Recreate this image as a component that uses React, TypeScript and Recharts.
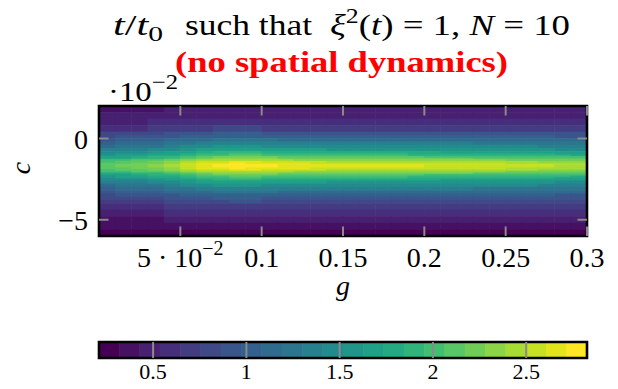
import { ReferenceArea, ReferenceLine, Scatter, ScatterChart, XAxis, YAxis } from 'recharts'

const FONT = '"Liberation Serif", "DejaVu Serif", serif'

// g cell centres (columns), each cell 0.01 wide
const gValues = [
  0.005, 0.015, 0.025, 0.035, 0.045, 0.055, 0.065, 0.075, 0.085, 0.095, 0.105, 0.115, 0.125, 0.135, 0.145,
  0.155, 0.165, 0.175, 0.185, 0.195, 0.205, 0.215, 0.225, 0.235, 0.245, 0.255, 0.265, 0.275, 0.285, 0.295,
]
const gCellWidth = 0.01

// c row edges, top to bottom (finer near the ridge)
const cEdges = [
  0.02, 0.016, 0.012, 0.008, 0.004, 0.002, 0, -0.002, -0.004, -0.006, -0.008, -0.009, -0.01, -0.011, -0.012,
  -0.013, -0.014, -0.015, -0.016, -0.017, -0.018, -0.019, -0.02, -0.021, -0.022, -0.023, -0.024, -0.025,
  -0.026, -0.028, -0.03, -0.032, -0.034, -0.036, -0.038, -0.04, -0.044, -0.048, -0.052, -0.056, -0.06,
]

// t/t0, one row per c band (top to bottom), one value per g column
const tValues = [
  [0.39, 0.4, 0.41, 0.41, 0.43, 0.44, 0.45, 0.46, 0.46, 0.46, 0.46, 0.45, 0.45, 0.45, 0.45, 0.45, 0.45, 0.45, 0.45, 0.44, 0.44, 0.44, 0.44, 0.44, 0.44, 0.44, 0.44, 0.43, 0.43, 0.43],
  [0.44, 0.45, 0.46, 0.47, 0.48, 0.5, 0.52, 0.52, 0.53, 0.53, 0.52, 0.52, 0.51, 0.51, 0.51, 0.51, 0.51, 0.51, 0.51, 0.5, 0.5, 0.5, 0.5, 0.5, 0.5, 0.5, 0.5, 0.49, 0.49, 0.49],
  [0.51, 0.52, 0.53, 0.54, 0.56, 0.58, 0.6, 0.61, 0.62, 0.62, 0.61, 0.61, 0.6, 0.6, 0.6, 0.6, 0.6, 0.6, 0.59, 0.59, 0.59, 0.59, 0.59, 0.58, 0.58, 0.58, 0.58, 0.57, 0.57, 0.57],
  [0.62, 0.63, 0.64, 0.66, 0.69, 0.72, 0.74, 0.76, 0.77, 0.76, 0.75, 0.74, 0.74, 0.74, 0.74, 0.73, 0.73, 0.73, 0.73, 0.72, 0.72, 0.72, 0.72, 0.72, 0.72, 0.71, 0.71, 0.7, 0.69, 0.69],
  [0.78, 0.8, 0.82, 0.84, 0.88, 0.92, 0.96, 0.98, 0.99, 0.99, 0.97, 0.96, 0.95, 0.95, 0.95, 0.94, 0.94, 0.94, 0.94, 0.93, 0.93, 0.92, 0.92, 0.92, 0.92, 0.92, 0.91, 0.9, 0.89, 0.88],
  [0.85, 0.87, 0.89, 0.92, 0.96, 1.0, 1.04, 1.07, 1.08, 1.08, 1.06, 1.05, 1.04, 1.04, 1.03, 1.03, 1.03, 1.03, 1.02, 1.01, 1.01, 1.01, 1.01, 1.0, 1.0, 1.0, 1.0, 0.98, 0.97, 0.96],
  [0.95, 0.98, 1.0, 1.04, 1.09, 1.14, 1.18, 1.21, 1.23, 1.22, 1.2, 1.19, 1.18, 1.18, 1.17, 1.17, 1.16, 1.16, 1.16, 1.15, 1.14, 1.14, 1.14, 1.14, 1.14, 1.13, 1.13, 1.11, 1.09, 1.09],
  [1.08, 1.11, 1.13, 1.17, 1.23, 1.29, 1.35, 1.38, 1.4, 1.39, 1.37, 1.35, 1.34, 1.34, 1.33, 1.33, 1.32, 1.32, 1.32, 1.31, 1.3, 1.3, 1.3, 1.29, 1.29, 1.29, 1.28, 1.27, 1.24, 1.24],
  [1.18, 1.22, 1.25, 1.29, 1.36, 1.42, 1.49, 1.52, 1.54, 1.54, 1.51, 1.49, 1.48, 1.48, 1.47, 1.47, 1.46, 1.46, 1.46, 1.44, 1.43, 1.43, 1.43, 1.42, 1.42, 1.42, 1.41, 1.39, 1.37, 1.36],
  [1.3, 1.33, 1.37, 1.42, 1.49, 1.57, 1.64, 1.68, 1.7, 1.69, 1.67, 1.64, 1.63, 1.63, 1.62, 1.61, 1.61, 1.61, 1.6, 1.59, 1.58, 1.57, 1.57, 1.57, 1.57, 1.56, 1.56, 1.53, 1.51, 1.5],
  [1.43, 1.46, 1.5, 1.56, 1.64, 1.72, 1.8, 1.85, 1.87, 1.86, 1.83, 1.81, 1.79, 1.79, 1.78, 1.78, 1.77, 1.77, 1.76, 1.74, 1.74, 1.73, 1.73, 1.72, 1.72, 1.72, 1.71, 1.69, 1.65, 1.65],
  [1.49, 1.53, 1.57, 1.63, 1.72, 1.81, 1.89, 1.94, 1.96, 1.96, 1.92, 1.9, 1.88, 1.88, 1.87, 1.86, 1.86, 1.86, 1.85, 1.83, 1.82, 1.82, 1.82, 1.81, 1.81, 1.8, 1.8, 1.77, 1.73, 1.73],
  [1.59, 1.63, 1.68, 1.74, 1.83, 1.93, 2.01, 2.06, 2.09, 2.09, 2.05, 2.02, 2.01, 2.0, 1.99, 1.99, 1.98, 1.98, 1.97, 1.95, 1.94, 1.94, 1.94, 1.93, 1.93, 1.92, 1.91, 1.88, 1.85, 1.84],
  [1.69, 1.73, 1.78, 1.85, 1.95, 2.05, 2.14, 2.19, 2.23, 2.22, 2.18, 2.15, 2.13, 2.13, 2.12, 2.11, 2.1, 2.1, 2.09, 2.07, 2.06, 2.06, 2.06, 2.05, 2.05, 2.04, 2.03, 2.0, 1.96, 1.96],
  [1.78, 1.83, 1.88, 1.95, 2.06, 2.17, 2.27, 2.32, 2.36, 2.35, 2.31, 2.27, 2.26, 2.25, 2.24, 2.23, 2.23, 2.23, 2.22, 2.19, 2.18, 2.18, 2.18, 2.17, 2.17, 2.16, 2.15, 2.12, 2.08, 2.07],
  [2.0, 2.06, 2.12, 2.13, 2.18, 2.29, 2.39, 2.45, 2.49, 2.48, 2.44, 2.4, 2.38, 2.38, 2.37, 2.36, 2.35, 2.35, 2.34, 2.31, 2.31, 2.3, 2.3, 2.29, 2.29, 2.28, 2.27, 2.24, 2.19, 2.18],
  [2.05, 2.11, 2.17, 2.21, 2.29, 2.41, 2.52, 2.58, 2.62, 2.61, 2.56, 2.53, 2.51, 2.5, 2.49, 2.48, 2.47, 2.47, 2.46, 2.44, 2.43, 2.42, 2.42, 2.41, 2.41, 2.4, 2.39, 2.35, 2.31, 2.3],
  [2.09, 2.15, 2.21, 2.28, 2.38, 2.5, 2.62, 2.69, 2.72, 2.71, 2.67, 2.63, 2.61, 2.6, 2.59, 2.58, 2.57, 2.57, 2.56, 2.53, 2.52, 2.51, 2.51, 2.5, 2.5, 2.49, 2.48, 2.45, 2.4, 2.39],
  [2.12, 2.18, 2.24, 2.32, 2.45, 2.58, 2.7, 2.76, 2.8, 2.79, 2.74, 2.71, 2.69, 2.68, 2.67, 2.66, 2.65, 2.65, 2.64, 2.61, 2.6, 2.59, 2.59, 2.58, 2.58, 2.57, 2.56, 2.52, 2.47, 2.46],
  [2.12, 2.18, 2.24, 2.32, 2.45, 2.58, 2.7, 2.76, 2.8, 2.79, 2.74, 2.71, 2.69, 2.68, 2.67, 2.66, 2.65, 2.65, 2.64, 2.61, 2.6, 2.59, 2.59, 2.58, 2.58, 2.57, 2.56, 2.52, 2.47, 2.46],
  [2.09, 2.15, 2.21, 2.28, 2.38, 2.5, 2.62, 2.69, 2.72, 2.71, 2.67, 2.63, 2.61, 2.6, 2.59, 2.58, 2.57, 2.57, 2.56, 2.53, 2.52, 2.51, 2.51, 2.5, 2.5, 2.49, 2.48, 2.45, 2.4, 2.39],
  [2.05, 2.11, 2.17, 2.21, 2.29, 2.41, 2.52, 2.58, 2.62, 2.61, 2.56, 2.53, 2.51, 2.5, 2.49, 2.48, 2.47, 2.47, 2.46, 2.44, 2.43, 2.42, 2.42, 2.41, 2.41, 2.4, 2.39, 2.35, 2.31, 2.3],
  [2.0, 2.06, 2.12, 2.13, 2.18, 2.29, 2.39, 2.45, 2.49, 2.48, 2.44, 2.4, 2.38, 2.38, 2.37, 2.36, 2.35, 2.35, 2.34, 2.31, 2.31, 2.3, 2.3, 2.29, 2.29, 2.28, 2.27, 2.24, 2.19, 2.18],
  [1.78, 1.83, 1.88, 1.95, 2.06, 2.17, 2.27, 2.32, 2.36, 2.35, 2.31, 2.27, 2.26, 2.25, 2.24, 2.23, 2.23, 2.23, 2.22, 2.19, 2.18, 2.18, 2.18, 2.17, 2.17, 2.16, 2.15, 2.12, 2.08, 2.07],
  [1.69, 1.73, 1.78, 1.85, 1.95, 2.05, 2.14, 2.19, 2.23, 2.22, 2.18, 2.15, 2.13, 2.13, 2.12, 2.11, 2.1, 2.1, 2.09, 2.07, 2.06, 2.06, 2.06, 2.05, 2.05, 2.04, 2.03, 2.0, 1.96, 1.96],
  [1.59, 1.63, 1.68, 1.74, 1.83, 1.93, 2.01, 2.06, 2.09, 2.09, 2.05, 2.02, 2.01, 2.0, 1.99, 1.99, 1.98, 1.98, 1.97, 1.95, 1.94, 1.94, 1.94, 1.93, 1.93, 1.92, 1.91, 1.88, 1.85, 1.84],
  [1.49, 1.53, 1.57, 1.63, 1.72, 1.81, 1.89, 1.94, 1.96, 1.96, 1.92, 1.9, 1.88, 1.88, 1.87, 1.86, 1.86, 1.86, 1.85, 1.83, 1.82, 1.82, 1.82, 1.81, 1.81, 1.8, 1.8, 1.77, 1.73, 1.73],
  [1.43, 1.46, 1.5, 1.56, 1.64, 1.72, 1.8, 1.85, 1.87, 1.86, 1.83, 1.81, 1.79, 1.79, 1.78, 1.78, 1.77, 1.77, 1.76, 1.74, 1.74, 1.73, 1.73, 1.72, 1.72, 1.72, 1.71, 1.69, 1.65, 1.65],
  [1.3, 1.33, 1.37, 1.42, 1.49, 1.57, 1.64, 1.68, 1.7, 1.69, 1.67, 1.64, 1.63, 1.63, 1.62, 1.61, 1.61, 1.61, 1.6, 1.59, 1.58, 1.57, 1.57, 1.57, 1.57, 1.56, 1.56, 1.53, 1.51, 1.5],
  [1.18, 1.22, 1.25, 1.29, 1.36, 1.42, 1.49, 1.52, 1.54, 1.54, 1.51, 1.49, 1.48, 1.48, 1.47, 1.47, 1.46, 1.46, 1.46, 1.44, 1.43, 1.43, 1.43, 1.42, 1.42, 1.42, 1.41, 1.39, 1.37, 1.36],
  [1.08, 1.11, 1.13, 1.17, 1.23, 1.29, 1.35, 1.38, 1.4, 1.39, 1.37, 1.35, 1.34, 1.34, 1.33, 1.33, 1.32, 1.32, 1.32, 1.31, 1.3, 1.3, 1.3, 1.29, 1.29, 1.29, 1.28, 1.27, 1.24, 1.24],
  [0.95, 0.98, 1.0, 1.04, 1.09, 1.14, 1.18, 1.21, 1.23, 1.22, 1.2, 1.19, 1.18, 1.18, 1.17, 1.17, 1.16, 1.16, 1.16, 1.15, 1.14, 1.14, 1.14, 1.14, 1.14, 1.13, 1.13, 1.11, 1.09, 1.09],
  [0.85, 0.87, 0.89, 0.92, 0.96, 1.0, 1.04, 1.07, 1.08, 1.08, 1.06, 1.05, 1.04, 1.04, 1.03, 1.03, 1.03, 1.03, 1.02, 1.01, 1.01, 1.01, 1.01, 1.0, 1.0, 1.0, 1.0, 0.98, 0.97, 0.96],
  [0.78, 0.8, 0.82, 0.84, 0.88, 0.92, 0.96, 0.98, 0.99, 0.99, 0.97, 0.96, 0.95, 0.95, 0.95, 0.94, 0.94, 0.94, 0.94, 0.93, 0.93, 0.92, 0.92, 0.92, 0.92, 0.92, 0.91, 0.9, 0.89, 0.88],
  [0.69, 0.71, 0.72, 0.75, 0.78, 0.81, 0.84, 0.86, 0.87, 0.87, 0.86, 0.85, 0.84, 0.84, 0.84, 0.83, 0.83, 0.83, 0.83, 0.82, 0.82, 0.81, 0.81, 0.81, 0.81, 0.81, 0.81, 0.8, 0.78, 0.78],
  [0.59, 0.6, 0.61, 0.63, 0.65, 0.68, 0.7, 0.72, 0.73, 0.72, 0.71, 0.71, 0.7, 0.7, 0.7, 0.7, 0.69, 0.69, 0.69, 0.69, 0.68, 0.68, 0.68, 0.68, 0.68, 0.68, 0.68, 0.67, 0.66, 0.66],
  [0.49, 0.5, 0.51, 0.52, 0.54, 0.56, 0.58, 0.59, 0.6, 0.59, 0.59, 0.58, 0.58, 0.58, 0.57, 0.57, 0.57, 0.57, 0.57, 0.57, 0.56, 0.56, 0.56, 0.56, 0.56, 0.56, 0.56, 0.55, 0.54, 0.54],
  [0.39, 0.4, 0.41, 0.41, 0.43, 0.44, 0.45, 0.46, 0.46, 0.46, 0.46, 0.45, 0.45, 0.45, 0.45, 0.45, 0.45, 0.45, 0.45, 0.44, 0.44, 0.44, 0.44, 0.44, 0.44, 0.44, 0.44, 0.43, 0.43, 0.43],
  [0.32, 0.32, 0.32, 0.33, 0.34, 0.34, 0.35, 0.36, 0.36, 0.36, 0.35, 0.35, 0.35, 0.35, 0.35, 0.35, 0.35, 0.35, 0.35, 0.35, 0.35, 0.34, 0.34, 0.34, 0.34, 0.34, 0.34, 0.34, 0.34, 0.34],
  [0.25, 0.25, 0.25, 0.25, 0.26, 0.26, 0.26, 0.26, 0.27, 0.27, 0.26, 0.26, 0.26, 0.26, 0.26, 0.26, 0.26, 0.26, 0.26, 0.26, 0.26, 0.26, 0.26, 0.26, 0.26, 0.26, 0.26, 0.26, 0.26, 0.26],
]

// contour levels (colour bar edges)
const colorLevels = [
  0.21, 0.319, 0.428, 0.537, 0.646, 0.755, 0.864, 0.973, 1.082, 1.191, 1.3, 1.409, 1.518, 1.627, 1.736, 1.845,
  1.954, 2.063, 2.172, 2.281, 2.39, 2.499, 2.608, 2.717, 2.826,
]

const gTicks = [0.05, 0.1, 0.15, 0.2, 0.25, 0.3]
const cTicks = [-0.05, 0]
const colorTicks = [0.5, 1, 1.5, 2, 2.5]

const viridisStops = [
  '#440154', '#471365', '#482475', '#463480', '#414487', '#3b528b', '#355f8d', '#2f6c8e', '#2a788e', '#25848e',
  '#21918c', '#1e9c89', '#22a884', '#2fb47c', '#44bf70', '#5ec962', '#7ad151', '#9bd93c', '#bddf26', '#dfe318',
  '#fde725',
]

function viridis(t: number) {
  const s = Math.max(0, Math.min(1, t)) * (viridisStops.length - 1)
  const i = Math.min(Math.floor(s), viridisStops.length - 2)
  const f = s - i
  const a = viridisStops[i]
  const b = viridisStops[i + 1]
  const ch = (hex: string, k: number) => parseInt(hex.slice(1 + 2 * k, 3 + 2 * k), 16)
  const rgb = [0, 1, 2].map((k) => Math.round(ch(a, k) + (ch(b, k) - ch(a, k)) * f))
  return `rgb(${rgb.join(',')})`
}

const levelCount = colorLevels.length - 1

function levelIndex(v: number) {
  let i = 0
  while (i < levelCount - 1 && v >= colorLevels[i + 1]) i++
  return i
}

const levelColor = (v: number) => viridis(levelIndex(v) / (levelCount - 1))

// layout (page pixels)
const W = 618
const PLOT_LEFT = 99
const PLOT_W = 488
const PLOT_TOP = 106
const PLOT_H = 130
const CHART_H = 300
const CB_TOP = 330
const CB_CHART_H = 59
const CB_PLOT_TOP = 12
const CB_H = 16
const X_AXIS_H = 30
const Y_AXIS_W = 60

const G_DOMAIN: [number, number] = [0, 0.3]
const C_DOMAIN: [number, number] = [-0.06, 0.02]
const CB_DOMAIN: [number, number] = [colorLevels[0], colorLevels[levelCount]]

const pxPerG = PLOT_W / (G_DOMAIN[1] - G_DOMAIN[0])
const pxPerC = PLOT_H / (C_DOMAIN[1] - C_DOMAIN[0])
const pxPerT = PLOT_W / (CB_DOMAIN[1] - CB_DOMAIN[0])

const heatData = tValues.flatMap((row, r) =>
  row.map((t, j) => ({
    g: gValues[j],
    c: (cEdges[r] + cEdges[r + 1]) / 2,
    dc: cEdges[r] - cEdges[r + 1],
    t,
  })),
)

const colorbarData = colorLevels.slice(0, levelCount).map((lo, i) => ({
  t: (lo + colorLevels[i + 1]) / 2,
  dt: colorLevels[i + 1] - lo,
  y: 0.5,
  level: i,
}))

function HeatCell(props: any) {
  const { cx, cy, payload } = props
  const w = gCellWidth * pxPerG + 0.6
  const h = payload.dc * pxPerC + 0.6
  return <rect x={cx - w / 2} y={cy - h / 2} width={w} height={h} fill={levelColor(payload.t)} />
}

function ColorCell(props: any) {
  const { cx, payload } = props
  const w = payload.dt * pxPerT + 0.5
  return (
    <rect x={cx - w / 2} y={CB_PLOT_TOP} width={w} height={CB_H} fill={viridis(payload.level / (levelCount - 1))} />
  )
}

function GTick({ x, y, payload }: any) {
  const v = payload.value
  return (
    <text x={x} y={y + 31} textAnchor="middle" fontFamily={FONT} fontSize={28} fill="#000">
      {v === 0.05 ? (
        <>
          5 · 10
          <tspan dy={-12} fontSize={20}>
            −2
          </tspan>
        </>
      ) : (
        String(v)
      )}
    </text>
  )
}

function CTick({ x, y, payload }: any) {
  const v = Math.round(payload.value * 100)
  return (
    <text x={x - 11} y={y + 10} textAnchor="end" fontFamily={FONT} fontSize={28} fill="#000">
      {v < 0 ? `−${-v}` : String(v)}
    </text>
  )
}

function BarTick({ x, y, payload }: any) {
  return (
    <text x={x} y={y + 21} textAnchor="middle" fontFamily={FONT} fontSize={22} fill="#000">
      {String(payload.value)}
    </text>
  )
}

const mainMargin = {
  top: PLOT_TOP,
  left: PLOT_LEFT,
  right: W - PLOT_LEFT - PLOT_W,
  bottom: CHART_H - PLOT_TOP - PLOT_H,
}
// same plot box, with room taken by the visible axes
const mainAxisMargin = { ...mainMargin, left: PLOT_LEFT - Y_AXIS_W, bottom: mainMargin.bottom - X_AXIS_H }
const cbMargin = {
  top: CB_PLOT_TOP,
  left: PLOT_LEFT,
  right: W - PLOT_LEFT - PLOT_W,
  bottom: CB_CHART_H - CB_PLOT_TOP - CB_H,
}
const cbAxisMargin = { ...cbMargin, bottom: cbMargin.bottom - X_AXIS_H }

const tickLenC = 9.5 / pxPerC
const tickLenG = 9.5 / pxPerG
const GRAY = '#8a8a8a'

const layer = { position: 'absolute' as const, left: 0 }

export default function App() {
  return (
    <div style={{ position: 'absolute', left: 0, top: 0, width: W, height: 389, background: '#fff' }}>
      <div style={{ ...layer, top: 0 }}>
        <ScatterChart width={W} height={CHART_H} margin={mainMargin}>
          <XAxis type="number" dataKey="g" domain={G_DOMAIN} allowDataOverflow hide />
          <YAxis type="number" dataKey="c" domain={C_DOMAIN} allowDataOverflow hide />
          <Scatter data={heatData} shape={HeatCell} isAnimationActive={false} />
        </ScatterChart>
      </div>
      <div style={{ ...layer, top: 0 }}>
        <ScatterChart width={W} height={CHART_H} margin={mainAxisMargin}>
          <XAxis
            type="number"
            dataKey="g"
            domain={G_DOMAIN}
            allowDataOverflow
            ticks={gTicks}
            interval={0}
            tick={<GTick />}
            tickLine={false}
            axisLine={false}
            tickSize={0}
            tickMargin={0}
            height={X_AXIS_H}
          />
          <YAxis
            type="number"
            dataKey="c"
            domain={C_DOMAIN}
            allowDataOverflow
            ticks={cTicks}
            interval={0}
            tick={<CTick />}
            tickLine={false}
            axisLine={false}
            tickSize={0}
            tickMargin={0}
            width={Y_AXIS_W}
          />
          {gTicks.map((g) => (
            <ReferenceLine
              key={`gt${g}`}
              segment={[{ x: g, y: C_DOMAIN[1] }, { x: g, y: C_DOMAIN[1] - tickLenC }]}
              stroke={GRAY}
              strokeWidth={2}
            />
          ))}
          {gTicks.map((g) => (
            <ReferenceLine
              key={`gb${g}`}
              segment={[{ x: g, y: C_DOMAIN[0] }, { x: g, y: C_DOMAIN[0] + tickLenC }]}
              stroke={GRAY}
              strokeWidth={2}
            />
          ))}
          {cTicks.map((c) => (
            <ReferenceLine
              key={`cl${c}`}
              segment={[{ x: G_DOMAIN[0], y: c }, { x: G_DOMAIN[0] + tickLenG, y: c }]}
              stroke={GRAY}
              strokeWidth={2}
            />
          ))}
          {cTicks.map((c) => (
            <ReferenceLine
              key={`cr${c}`}
              segment={[{ x: G_DOMAIN[1], y: c }, { x: G_DOMAIN[1] - tickLenG, y: c }]}
              stroke={GRAY}
              strokeWidth={2}
            />
          ))}
          <ReferenceArea
            x1={G_DOMAIN[0]}
            x2={G_DOMAIN[1]}
            y1={C_DOMAIN[0]}
            y2={C_DOMAIN[1]}
            fill="none"
            stroke="#000"
            strokeWidth={2.6}
          />
        </ScatterChart>
      </div>
      <div style={{ ...layer, top: CB_TOP }}>
        <ScatterChart width={W} height={CB_CHART_H} margin={cbMargin}>
          <XAxis type="number" dataKey="t" domain={CB_DOMAIN} allowDataOverflow hide />
          <YAxis type="number" dataKey="y" domain={[0, 1]} allowDataOverflow hide />
          <Scatter data={colorbarData} shape={ColorCell} isAnimationActive={false} />
        </ScatterChart>
      </div>
      <div style={{ ...layer, top: CB_TOP }}>
        <ScatterChart width={W} height={CB_CHART_H} margin={cbAxisMargin}>
          <XAxis
            type="number"
            dataKey="t"
            domain={CB_DOMAIN}
            allowDataOverflow
            ticks={colorTicks}
            interval={0}
            tick={<BarTick />}
            tickLine={false}
            axisLine={false}
            tickSize={0}
            tickMargin={0}
            height={X_AXIS_H}
          />
          <YAxis type="number" dataKey="y" domain={[0, 1]} allowDataOverflow hide />
          {colorTicks.map((t) => (
            <ReferenceLine key={`bt${t}`} x={t} stroke={GRAY} strokeWidth={2} />
          ))}
          <ReferenceArea
            x1={CB_DOMAIN[0]}
            x2={CB_DOMAIN[1]}
            y1={0}
            y2={1}
            fill="none"
            stroke="#000"
            strokeWidth={2.6}
          />
        </ScatterChart>
      </div>
      <svg
        width={W}
        height={389}
        style={{ position: 'absolute', left: 0, top: 0, pointerEvents: 'none' }}
        fontFamily={FONT}
      >
        <text x={113} y={35} fontSize={30} fill="#000" textLength={50} lengthAdjust="spacingAndGlyphs">
          <tspan fontStyle="italic">t</tspan>/<tspan fontStyle="italic">t</tspan>
          <tspan fontSize={21} dy={6}>
            0
          </tspan>
        </text>
        <text x={185} y={35} fontSize={30} fill="#000" textLength={127} lengthAdjust="spacingAndGlyphs">
          such that
        </text>
        <text x={330} y={35} fontSize={30} fill="#000" textLength={240} lengthAdjust="spacingAndGlyphs">
          <tspan fontStyle="italic">ξ</tspan>
          <tspan fontSize={21} dy={-12}>
            2
          </tspan>
          <tspan dy={12}>(</tspan>
          <tspan fontStyle="italic">t</tspan>
          <tspan>) = 1, </tspan>
          <tspan fontStyle="italic">N</tspan>
          <tspan> = 10</tspan>
        </text>
        <text
          x={175}
          y={72}
          fontSize={29}
          fontWeight="bold"
          fill="#ff0000"
          textLength={333}
          lengthAdjust="spacingAndGlyphs"
        >
          (no spatial dynamics)
        </text>
        <text x={108} y={101} fontSize={28} fill="#000" textLength={70} lengthAdjust="spacingAndGlyphs">
          ·10
          <tspan dy={-12} fontSize={21}>
            −2
          </tspan>
        </text>
        <text x={343} y={295} textAnchor="middle" fontSize={28} fontStyle="italic" fill="#000">
          g
        </text>
        <text
          x={30}
          y={168}
          textAnchor="middle"
          fontSize={28}
          fontStyle="italic"
          fill="#000"
          transform="rotate(-90 30 168)"
        >
          c
        </text>
      </svg>
    </div>
  )
}
